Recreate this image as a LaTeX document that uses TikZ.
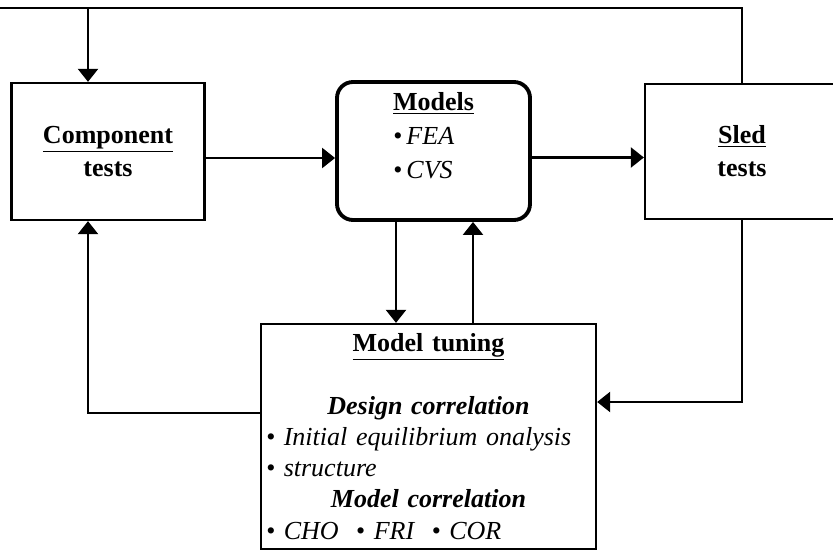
\documentclass[tikz,border=0pt]{standalone}
\usepackage{fontspec}
\setmainfont{Liberation Serif}
\usepackage{tikz}
\usetikzlibrary{arrows.meta}

\tikzset{
	box/.style={draw, line width=1.3pt, minimum width=3.86cm, minimum height=2.74cm, align=center, font=\fontsize{14.8}{18.8}\selectfont\bfseries},
	modelbox/.style={draw, line width=2.2pt, rounded corners=0.32cm, minimum width=3.86cm, minimum height=2.76cm, align=left, font=\fontsize{14.8}{19.4}\selectfont},
	tunebox/.style={draw, line width=1.3pt, minimum width=6.7cm, minimum height=4.5cm, inner xsep=2pt, text width=6.5cm, align=left, font=\fontsize{14.8}{17.8}\selectfont},
	arr/.style={-{Triangle[length=0.26cm, width=0.4cm]}, line width=1.3pt}
}

\begin{document}
\begin{tikzpicture}
			\useasboundingbox (0, 0) rectangle (16.66, -11.06);
			\clip (0, 0) rectangle (16.66, -11.06);
			% Blocks:
			\node[box](comp) at (2.16, -3.03){\underline{Component}\\tests};
			\node[modelbox, text depth=0.62cm](models) at (8.67, -3.02){\textbf{\underline{Models}}\\\textit{\textbullet\,FEA}\\\textit{\textbullet\,CVS}};
			\node[box, minimum width=3.88cm, minimum height=2.7cm](sled) at (14.84, -3.03){\underline{Sled}\\tests};
			\node[tunebox](tuning) at (8.57, -8.73){%
				\makebox[\hsize]{\textbf{\underline{Model tuning}}}\\[17.8pt]
				\makebox[\hsize]{\textbf{\textit{Design correlation}}}\\
				\textit{\textbullet\ Initial equilibrium onalysis}\\
				\textit{\textbullet\ structure}\\
				\makebox[\hsize]{\textbf{\textit{Model correlation}}}\\
				\textit{\textbullet\ CHO\ \ \textbullet\ FRI\ \ \textbullet\ COR}};
			\coordinate (top) at (0, -0.16);
			% Connectors:
			\draw[arr] ([yshift=-0.13cm]comp.east) -- ([yshift=-0.13cm]comp.east -| models.west);
			\draw[arr] ([yshift=-0.13cm]models.east) -- ([yshift=-0.13cm]models.east -| sled.west);
			\draw[arr] (sled.north) |- (top) -| ([xshift=-0.4cm]comp.north);
			\draw[arr] ([xshift=-0.75cm]models.south) -- ([xshift=-0.75cm]models.south |- tuning.north);
			\draw[arr] ([xshift=0.79cm]models.south |- tuning.north) -- ([xshift=0.79cm]models.south);
			\draw[arr] ([yshift=0.47cm]tuning.west) -| ([xshift=-0.4cm]comp.south);
			\draw[arr] (sled.south) |- ([yshift=0.69cm]tuning.east);
		\end{tikzpicture}
\end{document}
